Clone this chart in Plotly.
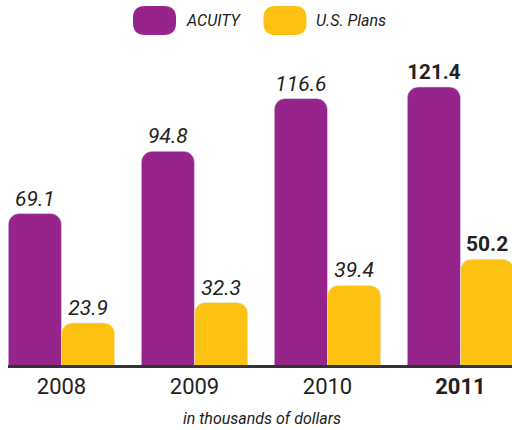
import plotly.graph_objects as go

years = ["2008", "2009", "2010", "2011"]
year_labels = ["2008", "2009", "2010", "<b>2011</b>"]
acuity = [69.1, 94.8, 116.6, 121.4]
us_plans = [23.9, 32.3, 39.4, 50.2]
series_names = ["ACUITY", "U.S. Plans"]

PURPLE = "#97248A"
YELLOW = "#FDC112"
TXT = "#222222"
FONT = "Roboto, Liberation Sans, sans-serif"

def lab(vals):
    out = []
    for y, v in zip(years, vals):
        out.append(f"<b>{v}</b>" if y == "2011" else f"<i>{v}</i>")
    return out

fig = go.Figure()
fig.add_trace(go.Bar(x=years, y=acuity, name=series_names[0], marker_color=PURPLE,
                     text=lab(acuity), textposition="outside", cliponaxis=True,
                     textfont=dict(size=21, color=TXT, family=FONT)))
fig.add_trace(go.Bar(x=years, y=us_plans, name=series_names[1], marker_color=YELLOW,
                     text=lab(us_plans), textposition="outside", cliponaxis=True,
                     textfont=dict(size=21, color=TXT, family=FONT)))

L, PW, TOP, BOT = 8, 504, 45, 365
PH = BOT - TOP
PX_PER_UNIT = 2.42
Y0 = 6.5

def px_x(px):
    return (px - L) / PW

def px_y(py):
    return (BOT - py) / PH

def rrect(w, h, r):
    x0, x1, y0, y1 = -w / 2, w / 2, -h / 2, h / 2
    return (f"M {x0+r},{y0} L {x1-r},{y0} Q {x1},{y0} {x1},{y0+r} L {x1},{y1-r} "
            f"Q {x1},{y1} {x1-r},{y1} L {x0+r},{y1} Q {x0},{y1} {x0},{y1-r} "
            f"L {x0},{y0+r} Q {x0},{y0} {x0+r},{y0} Z")

shapes = []
annotations = []
for name, col, cx, tx in [(series_names[0], PURPLE, 154.5, 184), (series_names[1], YELLOW, 285, 314)]:
    shapes.append(dict(type="path", xref="paper", yref="paper", xsizemode="pixel", ysizemode="pixel",
                       xanchor=px_x(cx), yanchor=px_y(20.5), path=rrect(43, 29, 12),
                       fillcolor=col, line=dict(width=0)))
    annotations.append(dict(text=f"<i>{name}</i>", xref="paper", yref="paper", x=px_x(tx), y=px_y(20.5),
                            xanchor="left", yanchor="middle", showarrow=False,
                            font=dict(size=16, color=TXT, family=FONT)))

annotations.append(dict(text="<i>in thousands of dollars</i>", xref="paper", yref="paper",
                        x=px_x(262), y=px_y(418), xanchor="center", yanchor="middle", showarrow=False,
                        font=dict(size=16, color=TXT, family=FONT)))

fig.update_layout(
    width=512, height=430,
    margin=dict(l=L, r=0, t=TOP, b=430 - BOT, pad=0),
    paper_bgcolor="white", plot_bgcolor="white",
    barmode="group", bargap=0.2, bargroupgap=0,
    barcornerradius=11,
    showlegend=False,
    shapes=shapes, annotations=annotations,
    xaxis=dict(type="category", tickvals=years, ticktext=year_labels,
               range=[(8 - 61.5) / 133, (512 - 61.5) / 133],
               showline=True, linecolor="#333333", linewidth=3, showgrid=False, ticks="",
               tickfont=dict(size=22, color=TXT, family=FONT), ticklabelstandoff=0),
    yaxis=dict(range=[Y0, Y0 + PH / PX_PER_UNIT], visible=False, showgrid=False, zeroline=False),
)

fig.write_html("out.html", config={"displayModeBar": False},
               post_script="document.body.style.margin='0px';")
